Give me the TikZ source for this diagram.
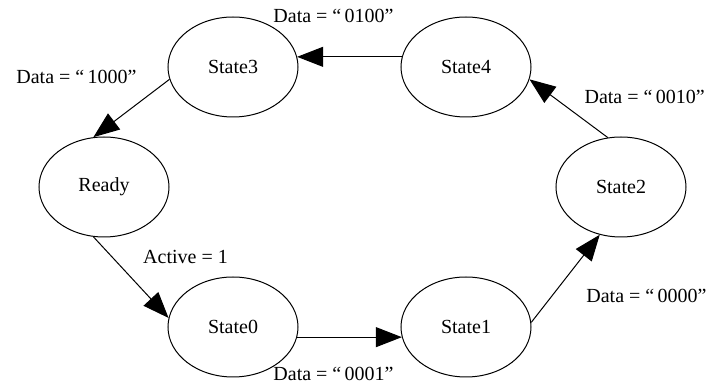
\documentclass[tikz,border=0pt]{standalone}
\usepackage{fontspec}
\setmainfont{Liberation Serif}
\usetikzlibrary{positioning,arrows.meta,shapes.geometric}
\tikzset{
  fsm/.style={-{Triangle[length=13pt,width=10pt]},line width=0.5pt,on grid,
    every node/.style={font=\fontsize{10}{12}\selectfont}},
  st/.style={ellipse,draw,line width=0.5pt,minimum width=65pt,minimum height=50pt,inner sep=0pt},
  lbl/.style={inner sep=0pt},
}

\begin{document}
\begin{tikzpicture}[fsm]
  \useasboundingbox (0,0) rectangle (354.5pt,-192.5pt);
  \node[st] (rdy) at (52pt,-93.5pt) {Ready};
  \node[st] (s3) [above right=60pt and 64.5pt of rdy] {State3};
  \node[st] (s4) [right=116.5pt of s3] {State4};
  \node[st] (s2) [below right=60pt and 77.5pt of s4] {State2};
  \node[st] (s1) [below left=70pt and 77.5pt of s2] {State1};
  \node[st] (s0) [left=116.5pt of s1] {State0};
  % transitions
  \draw (s4.171) -- node[lbl,xshift=-8pt,yshift=20.5pt] {Data = “\,0100”} (s3.9);
  \draw (s3.191) -- node[lbl,xshift=-27.5pt,yshift=15.75pt] {Data = “\,1000”} (rdy.102);
  \draw (rdy.258) -- node[lbl,xshift=27.25pt,yshift=10pt] {Active = 1} (s0.172);
  \draw (s0.351) -- node[lbl,xshift=-8pt,yshift=-18.5pt] {Data = “\,0001”} (s1.189);
  \draw (s1.4) -- node[lbl,xshift=40.5pt,yshift=-8.75pt] {Data = “\,0000”} (s2.246);
  \draw (s2.105) -- node[lbl,xshift=38pt,yshift=5.75pt] {Data = “\,0010”} (s4.349);
\end{tikzpicture}
\end{document}
